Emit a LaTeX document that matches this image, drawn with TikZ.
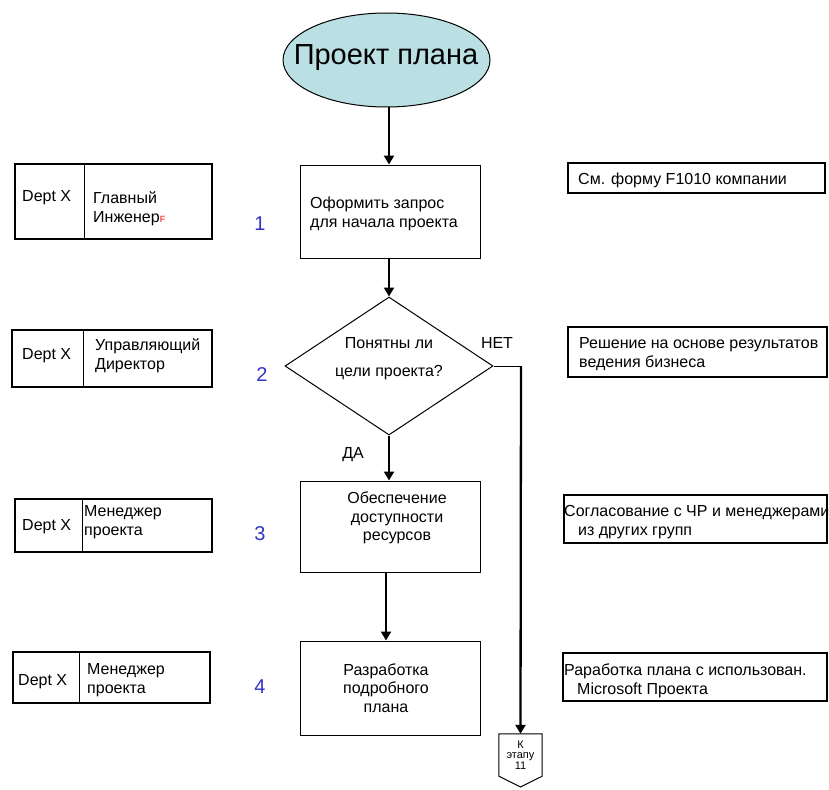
\documentclass[tikz,border=0pt]{standalone}
\usepackage{fontspec}
\setmainfont{Liberation Sans}
\usetikzlibrary{shapes.geometric,arrows.meta}
\definecolor{ovalfill}{RGB}{187,224,228}
\definecolor{stepno}{RGB}{51,51,204}
\begin{document}
\begin{tikzpicture}[x=1pt,y=-1pt,
  box/.style={draw, line width=1.1pt, rectangle, inner sep=0pt},
  txt/.style={inner sep=0pt, font=\fontsize{16}{19}\selectfont, align=left},
  ctxt/.style={inner sep=0pt, font=\fontsize{16}{18.5}\selectfont, align=center},
  flow/.style={line width=2.3pt, -{Triangle[length=9pt,width=10pt]}},
  num/.style={text=stepno, font=\fontsize{20}{20}\selectfont, inner sep=0pt}
]
\useasboundingbox (0,0) rectangle (829,789);

% ---- main flow ----
\node[draw, ellipse, fill=ovalfill, line width=1pt, minimum width=207pt,
      minimum height=94pt, inner sep=0pt] (e) at (386.5,60) {};
\node[inner sep=0pt, font=\fontsize{29}{29}\selectfont] (et) at (386,57.5) {Проект плана};

\node[box, line width=1pt, minimum width=180pt, minimum height=93pt] (b1) at (390,211.5) {};
\node[txt, anchor=west] (b1t) at (310,214) {Оформить запрос\\для начала проекта};

\node[draw, diamond, line width=1pt, minimum width=208pt, minimum height=138pt,
      inner sep=0pt] (d) at (389,366) {};
\node[ctxt, font=\fontsize{16}{28}\selectfont] (dt) at (389,359) {Понятны ли\\цели проекта?};

\node[box, line width=1pt, minimum width=180pt, minimum height=91pt] (b3) at (390,526.5) {};
\node[ctxt] (b3t) at (397,518) {Обеспечение\\доступности\\ресурсов};

\node[box, line width=1pt, minimum width=180pt, minimum height=94pt] (b4) at (390,688) {};
\node[ctxt] (b4t) at (386,688) {Разработка\\подробного\\плана};

\node[txt] (yes) at (353,455) {ДА};
\node[txt] (no) at (497,343) {НЕТ};

% off-page connector
\node[inner sep=0pt, minimum width=43pt, minimum height=42pt, align=center,
      font=\fontsize{11}{10.5}\selectfont] (k) at (520.5,755) {К\\этапу\\11};
\coordinate (kp) at (520.5,787);
\draw[line width=1pt] (k.south west) -- (k.north west) -- (k.north east)
      -- (k.south east) -- (kp) -- cycle;

\coordinate (nc) at (521,366);

\draw[flow] (d.north |- e.south) -- (d.north |- b1.north);
\draw[flow] (b1.south -| d.north) -- (d.north);
\draw[flow] (d.south) -- (d.south |- b3.north);
\draw[flow] ([xshift=-4pt]b3.south) -- ([xshift=-4pt]b3.south |- b4.north);
\draw[line width=1pt] (d.east) -- (nc);
\draw[flow] (nc) -- (k.north);

% ---- step numbers ----
\node[num] (n1) at (260,224) {1};
\node[num] (n2) at (262,375) {2};
\node[num] (n3) at (260,534) {3};
\node[num] (n4) at (260,687) {4};

% ---- roles (left) ----
\node[box, minimum width=197pt, minimum height=75pt] (l1) at (113.5,201.5) {};
\draw[line width=1.1pt] ([xshift=70pt]l1.north west) -- ([xshift=70pt]l1.south west);
\node[txt, anchor=west] (l1a) at (22,198) {Dept X};
\node[txt, anchor=west] (l1b) at (93,208.5) {Главный\\Инженер{\color{red}\fontsize{9}{9}\selectfont F}};

\node[box, minimum width=200pt, minimum height=57pt] (l2) at (112,358.5) {};
\draw[line width=1.1pt] ([xshift=72pt]l2.north west) -- ([xshift=72pt]l2.south west);
\node[txt, anchor=west] (l2a) at (22,356) {Dept X};
\node[txt, anchor=west] (l2b) at (95,355.5) {Управляющий\\Директор};

\node[box, minimum width=197pt, minimum height=53pt] (l3) at (113.5,525.5) {};
\draw[line width=1.1pt] ([xshift=68pt]l3.north west) -- ([xshift=68pt]l3.south west);
\node[txt, anchor=west] (l3a) at (22,527) {Dept X};
\node[txt, anchor=west] (l3b) at (84,522) {Менеджер\\проекта};

\node[box, minimum width=197pt, minimum height=51pt] (l4) at (111.5,677.5) {};
\draw[line width=1.1pt] ([xshift=67pt]l4.north west) -- ([xshift=67pt]l4.south west);
\node[txt, anchor=west] (l4a) at (18,682) {Dept X};
\node[txt, anchor=west] (l4b) at (87,680) {Менеджер\\проекта};

% ---- notes (right) ----
\node[box, minimum width=257pt, minimum height=30pt] (r1) at (696.5,178) {};
\node[txt, anchor=west] (r1t) at (578,180) {См. форму F1010 компании};

\node[box, minimum width=259pt, minimum height=50pt] (r2) at (697.5,352) {};
\node[txt, anchor=west] (r2t) at (579,354) {Решение на основе результатов\\ведения бизнеса};

\node[box, minimum width=263pt, minimum height=48pt] (r3) at (695.5,519) {};
\node[txt, anchor=west] (r3t) at (564,522) {Согласование с ЧР и менеджерами\\\hspace*{14pt}из других групп};

\node[box, minimum width=264pt, minimum height=48pt] (r4) at (695,677) {};
\node[txt, anchor=west] (r4t) at (564,681) {Раработка плана с использован.\\\hspace*{13pt}Microsoft Проекта};
\end{tikzpicture}
\end{document}
